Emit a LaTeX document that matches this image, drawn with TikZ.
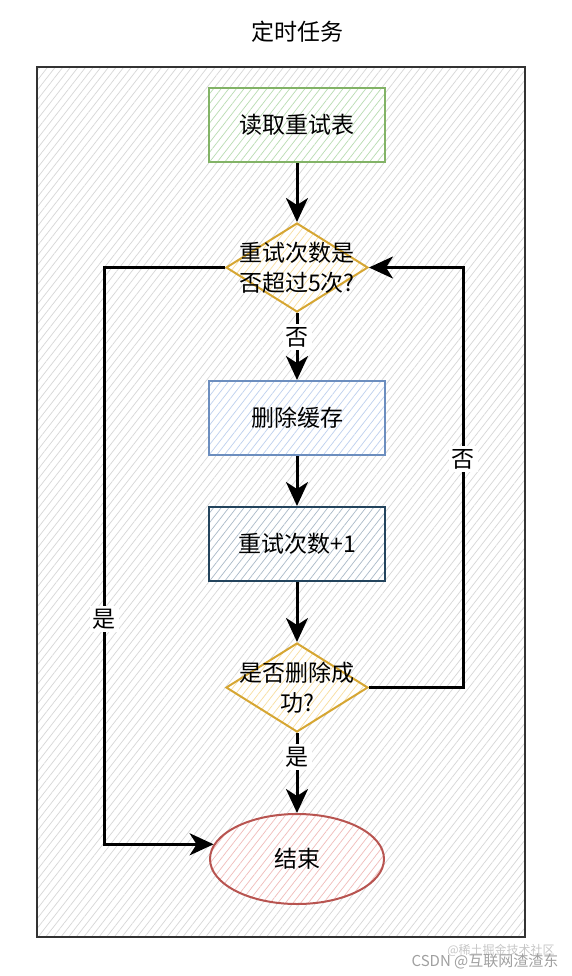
\documentclass[tikz,border=0pt]{standalone}
\usepackage{fontspec}
\setmainfont{Noto Sans CJK SC}
\usepackage{tikz}
\usetikzlibrary{arrows.meta,positioning,shapes.geometric,patterns.meta}
\definecolor{greenline}{RGB}{130,179,102}
\definecolor{greenhatch}{RGB}{185,220,178}
\definecolor{blueline}{RGB}{108,142,191}
\definecolor{bluehatch}{RGB}{190,208,238}
\definecolor{navyline}{RGB}{35,68,93}
\definecolor{navyhatch}{RGB}{170,186,200}
\definecolor{goldline}{RGB}{214,166,50}
\definecolor{goldhatch}{RGB}{248,222,160}
\definecolor{redline}{RGB}{184,84,80}
\definecolor{redhatch}{RGB}{240,188,186}
\definecolor{framegray}{RGB}{51,51,51}
\definecolor{bghatch}{RGB}{215,215,215}

\begin{document}
\begin{tikzpicture}[x=0.5pt, y=-0.5pt, every node/.style={font=\fontsize{11.5}{15}\selectfont},
  hatch/.style={preaction={fill=white}, pattern={Lines[angle=52,distance=3pt,line width=0.35pt]}, pattern color=#1},
  procbox/.style={draw, line width=1pt, minimum width=88pt, minimum height=37pt, inner sep=0pt},
  decision/.style={diamond, draw=goldline, line width=1pt, minimum width=71pt, minimum height=44.5pt, inner sep=0pt, hatch=goldhatch},
  flow/.style={-{Stealth[length=12pt,width=11pt,inset=3.5pt]}, line width=1.5pt},
  edgelabel/.style={fill=white, inner sep=1.5pt}]
\useasboundingbox (0,0) rectangle (572,976);
\node (title) at (297,32) {定时任务};
\draw[line width=1.2pt, draw=framegray, hatch=bghatch] (37,67) rectangle (525,937);
\node[procbox, draw=greenline, hatch=greenhatch] (read) at (297,125) {读取重试表};
\node[decision, below=29.5pt of read, label={[align=center]center:重试次数是\\否超过5次?}] (times) {};
\node[procbox, draw=blueline, hatch=bluehatch, below=33.5pt of times] (del) {删除缓存};
\node[procbox, draw=navyline, hatch=navyhatch, below=25pt of del] (incr) {重试次数+1};
\node[decision, below=30pt of incr, label={[align=center]center:是否删除成\\功?}] (ok) {};
\node[ellipse, draw=redline, line width=1pt, hatch=redhatch, minimum width=87pt, minimum height=45pt, below=40pt of ok] (end) {结束};
\draw[flow] (read) -- (times);
\draw[flow] (times) -- node[edgelabel, pos=0.36]{否} (del);
\draw[flow] (del) -- (incr);
\draw[flow] (incr) -- (ok);
\draw[flow] (ok) -- node[edgelabel, pos=0.3]{是} (end);
\draw[flow] (times.west) -- ++(-121,0) |- node[edgelabel, pos=0.305]{是} (end.170);
\draw[flow] (ok.east) -- ++(94,0) |- node[edgelabel, pos=0.272]{否} (times.east);
% watermarks
\node[font=\fontsize{6}{7}\selectfont, text=gray!45] (mark1) at (501,950) {@稀土掘金技术社区};
\node[font=\fontsize{7.5}{9}\selectfont, text=gray!75] (mark2) at (485,961) {CSDN @互联网渣渣东};
\end{tikzpicture}
\end{document}
